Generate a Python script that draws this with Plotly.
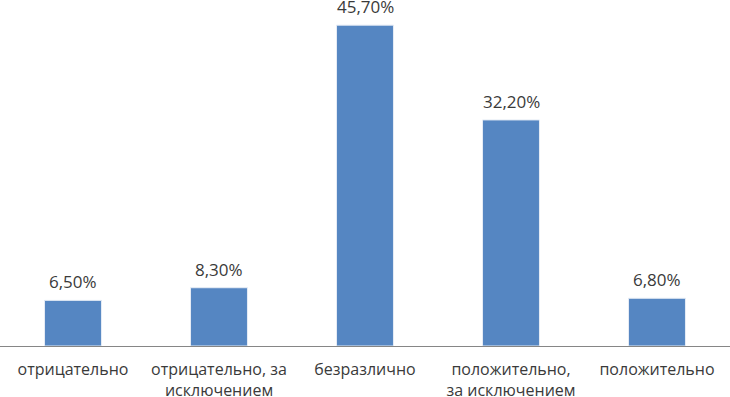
import plotly.graph_objects as go

categories = ["отрицательно", "отрицательно, за<br>исключением",
              "безразлично", "положительно,<br>за исключением", "положительно"]
values = [6.5, 8.3, 45.7, 32.2, 6.8]
value_labels = ["6,50%", "8,30%", "45,70%", "32,20%", "6,80%"]

FONT = "Open Sans"
TXT = "#3a3a3a"

fig = go.Figure()
fig.add_trace(go.Bar(
    x=list(range(len(categories))), y=values,
    marker=dict(color="#5586C2", line=dict(color="#E6ECF5", width=1)),
    width=0.39, hoverinfo="skip",
))
for i, (v, t) in enumerate(zip(values, value_labels)):
    fig.add_annotation(x=i, y=v, text=t, showarrow=False, yanchor="bottom",
                       yshift=5, font=dict(family=FONT, size=17, color=TXT))

fig.update_layout(
    width=730, height=397,
    margin=dict(l=0, r=0, t=9, b=51),
    paper_bgcolor="white", plot_bgcolor="white",
    showlegend=False,
    xaxis=dict(
        range=[-0.5, 4.5], tickmode="array", automargin=False,
        tickvals=list(range(len(categories))), ticktext=categories,
        showline=True, linecolor="#868686", linewidth=1,
        showgrid=False, zeroline=False,
        ticks="outside", ticklen=9, tickcolor="rgba(0,0,0,0)",
        tickfont=dict(family=FONT, size=16, color=TXT),
    ),
    yaxis=dict(range=[0, 48], visible=False, showgrid=False, zeroline=False,
               automargin=False),
)
fig.write_html("out.html", config={"displayModeBar": False},
               post_script="document.body.style.margin='0';document.body.style.overflow='hidden';")
